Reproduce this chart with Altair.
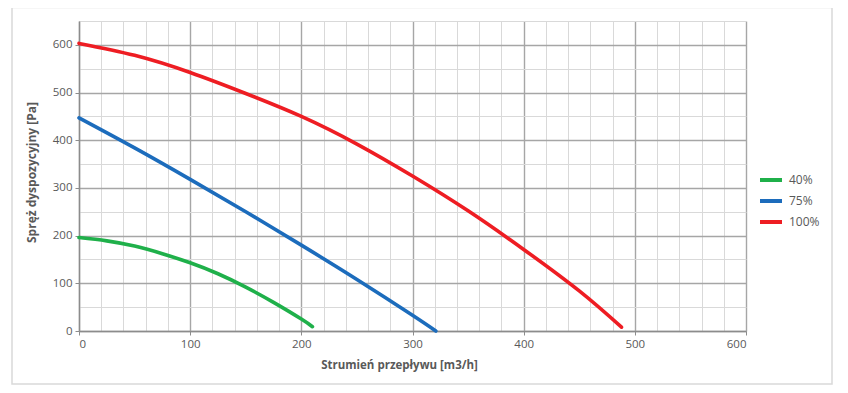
import altair as alt
import pandas as pd

# ---- data ----
series_names = ["40%", "75%", "100%"]
series_colors = ["#1fb04a", "#1c6cbc", "#ee1d23"]

x_40 = [0, 25, 50, 75, 100, 125, 150, 175, 200, 210]
y_40 = [196, 189, 178, 162, 143, 120, 92, 60, 25, 9]

x_75 = [0, 50, 100, 150, 200, 250, 300, 321]
y_75 = [447, 384, 318, 250, 180, 108, 33, 0]

x_100 = [0, 50, 100, 150, 200, 250, 300, 350, 400, 450, 488]
y_100 = [603, 578, 542, 498, 450, 392, 325, 252, 171, 84, 8]

x_ticks = list(range(0, 601, 20))
y_ticks = list(range(0, 651, 50))

rows = []
for name, xs, ys in zip(series_names, [x_40, x_75, x_100], [y_40, y_75, y_100]):
    for i, (a, b) in enumerate(zip(xs, ys)):
        rows.append({"series": name, "flow": a, "pressure": b, "order": i})
df = pd.DataFrame(rows)

FONT = "Open Sans"
MAJOR = "#a6a6a6"
MINOR = "#d9d9d9"
TXT = "#595959"

is_major = "datum.value % 100 === 0"

x_axis = alt.Axis(
    values=x_ticks,
    labelExpr="datum.value % 100 === 0 ? datum.label : ''",
    grid=True,
    gridColor={"condition": {"test": is_major, "value": MAJOR}, "value": MINOR},
    gridWidth={"condition": {"test": is_major, "value": 1.4}, "value": 1},
    tickOpacity={"condition": {"test": is_major, "value": 1}, "value": 0},
    tickColor="#8c8c8c", tickSize=4,
    domainColor="#8c8c8c", domainWidth=1.4,
    labelColor=TXT, labelFontSize=11.5, labelFont=FONT, labelPadding=3,
    title="Strumień przepływu  [m3/h]", titleColor=TXT, titleFont=FONT,
    titleFontSize=11.5, titleFontWeight="bold", titlePadding=10, titleX=320,
)
y_axis = alt.Axis(
    values=y_ticks,
    labelExpr="datum.value % 100 === 0 ? datum.label : ''",
    grid=True,
    gridColor={"condition": {"test": is_major, "value": MAJOR}, "value": MINOR},
    gridWidth={"condition": {"test": is_major, "value": 1.4}, "value": 1},
    tickOpacity={"condition": {"test": is_major, "value": 1}, "value": 0},
    tickColor="#8c8c8c", tickSize=4,
    domainColor="#8c8c8c", domainWidth=1.4,
    labelColor=TXT, labelFontSize=11.5, labelFont=FONT, labelPadding=3,
    title="Spręż dyspozycyjny  [Pa]", titleColor=TXT, titleFont=FONT,
    titleFontSize=12, titleFontWeight="bold", titlePadding=14, titleY=151,
)

frame = alt.Chart(pd.DataFrame({"k": [0]})).mark_rect(
    fill=None, stroke="#d9d9d9", strokeWidth=1.5
).encode(
    x=alt.value(-67), x2=alt.value(753), y=alt.value(-13.5), y2=alt.value(363)
)

lines = alt.Chart(df).mark_line(strokeWidth=3.6, interpolate="natural", strokeCap="round").encode(
    x=alt.X("flow:Q", scale=alt.Scale(domain=[0, 600], nice=False), axis=x_axis),
    y=alt.Y("pressure:Q", scale=alt.Scale(domain=[0, 650], nice=False), axis=y_axis),
    color=alt.Color(
        "series:N",
        scale=alt.Scale(domain=series_names, range=series_colors),
        legend=alt.Legend(
            title=None, orient="none", legendX=679, legendY=146,
            symbolType="stroke", symbolStrokeWidth=4, symbolSize=484,
            labelColor=TXT, labelFont=FONT, labelFontSize=12,
            rowPadding=-6, labelOffset=5,
        ),
    ),
    order="order:Q",
)

chart = alt.layer(frame, lines).properties(
    width=667, height=310,
    autosize=alt.AutoSizeParams(type="none"),
    padding={"left": 71, "top": 13, "right": 92, "bottom": 55},
).configure_view(strokeWidth=0)

chart.save("out.html", embed_options={"renderer": "svg", "actions": False})
